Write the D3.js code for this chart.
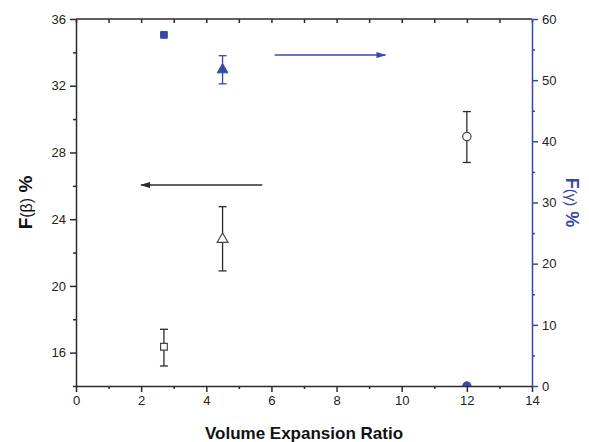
<!DOCTYPE html>
<html>
<head>
<meta charset="utf-8">
<script src="https://cdn.jsdelivr.net/npm/d3@7"></script>
<style>
  body { margin: 0; background: #fff; }
  text { font-family: "Liberation Sans", Arial, sans-serif; }
</style>
</head>
<body>
<svg id="chart"></svg>
<script>
// data
const ratios = [2.7, 4.5, 12];
const betaVals = [16.35, 22.8, 28.95];
const betaLow = [15.2, 20.9, 27.4];
const betaHigh = [17.4, 24.75, 30.45];
const betaShapes = ["square", "triangle", "circle"];

const gammaVals = [57.4, 51.7, 0];
const gammaLow = [57.1, 49.4, 0];
const gammaHigh = [57.7, 54.0, 0];

const xTicks = [0, 2, 4, 6, 8, 10, 12, 14];
const leftTicks = [16, 20, 24, 28, 32, 36];
const rightTicks = [0, 10, 20, 30, 40, 50, 60];

// arrows: [x0, x1, y]
const betaArrow = [5.72, 2.0, 26.05];
const gammaArrow = [6.1, 9.5, 54.1];

const W = 589, H = 442;
const margin = { top: 19, right: 57, bottom: 56, left: 76 };
const BLACK = "#2b2b2b", BLUE = "#3549a8";

const svg = d3.select("#chart").attr("width", W).attr("height", H);
const x = d3.scaleLinear().domain([0, 14]).range([margin.left, W - margin.right]);
const yL = d3.scaleLinear().domain([14, 36]).range([H - margin.bottom, margin.top]);
const yR = d3.scaleLinear().domain([0, 60]).range([H - margin.bottom, margin.top]);

const defs = svg.append("defs");
[["arrBlack", BLACK], ["arrBlue", BLUE]].forEach(([id, c]) => {
  defs.append("marker").attr("id", id)
    .attr("viewBox", "0 0 10 6").attr("refX", 9).attr("refY", 3)
    .attr("markerWidth", 10).attr("markerHeight", 6).attr("markerUnits", "userSpaceOnUse")
    .attr("orient", "auto")
    .append("path").attr("d", "M0,0 L10,3 L0,6 Z").attr("fill", c);
});
defs.append("clipPath").attr("id", "plotClip")
  .append("rect")
  .attr("x", x(0)).attr("y", yL(36))
  .attr("width", x(14) - x(0)).attr("height", yL(14) - yL(36));

// top border with inward ticks
svg.append("g")
  .attr("transform", `translate(0,${margin.top})`)
  .call(d3.axisBottom(x).ticks(14).tickSize(4).tickFormat(""))
  .call(g => g.selectAll("line,path").attr("stroke", BLACK).attr("stroke-width", 1.5))
  .call(g => g.select(".domain").attr("d", `M${x(0)},0H${x(14)}`));

// bottom axis, minor then major
svg.append("g")
  .attr("transform", `translate(0,${H - margin.bottom})`)
  .call(d3.axisBottom(x).tickValues(d3.range(1, 14, 2)).tickSize(3).tickFormat(""))
  .call(g => g.select(".domain").remove())
  .call(g => g.selectAll("line").attr("stroke", BLACK).attr("stroke-width", 1.5));
svg.append("g")
  .attr("transform", `translate(0,${H - margin.bottom})`)
  .call(d3.axisBottom(x).tickValues(xTicks).tickSize(6).tickSizeOuter(0).tickPadding(4))
  .call(g => g.selectAll("line,path").attr("stroke", BLACK).attr("stroke-width", 1.5))
  .call(g => g.selectAll("text").attr("font-size", 13).attr("fill", "#222"));

// left axis
svg.append("g")
  .attr("transform", `translate(${margin.left},0)`)
  .call(d3.axisLeft(yL).tickValues(d3.range(14, 37, 2).filter(v => !leftTicks.includes(v))).tickSize(3).tickFormat(""))
  .call(g => g.select(".domain").remove())
  .call(g => g.selectAll("line").attr("stroke", BLACK).attr("stroke-width", 1.5));
svg.append("g")
  .attr("transform", `translate(${margin.left},0)`)
  .call(d3.axisLeft(yL).tickValues(leftTicks).tickSize(6).tickSizeOuter(0).tickPadding(4))
  .call(g => g.selectAll("line,path").attr("stroke", BLACK).attr("stroke-width", 1.5))
  .call(g => g.selectAll("text").attr("font-size", 13).attr("fill", "#222"));

// right axis (blue)
svg.append("g")
  .attr("transform", `translate(${W - margin.right},0)`)
  .call(d3.axisRight(yR).tickValues(d3.range(5, 60, 10)).tickSize(3).tickFormat(""))
  .call(g => g.select(".domain").remove())
  .call(g => g.selectAll("line").attr("stroke", BLUE).attr("stroke-width", 1.5));
svg.append("g")
  .attr("transform", `translate(${W - margin.right},0)`)
  .call(d3.axisRight(yR).tickValues(rightTicks).tickSize(6).tickSizeOuter(0).tickPadding(4))
  .call(g => g.selectAll("line,path").attr("stroke", BLUE).attr("stroke-width", 1.5))
  .call(g => g.selectAll("text").attr("font-size", 13).attr("fill", "#222"));

// axis titles
svg.append("text")
  .attr("x", (x(0) + x(14)) / 2).attr("y", 439)
  .attr("text-anchor", "middle").attr("font-size", 17).attr("font-weight", "bold").attr("fill", "#111")
  .text("Volume Expansion Ratio");

const lt = svg.append("text")
  .attr("transform", `translate(32,${(yL(14) + yL(36)) / 2}) rotate(-90)`)
  .attr("text-anchor", "middle").attr("font-size", 19).attr("font-weight", "bold").attr("fill", "#111");
lt.append("tspan").text("F");
lt.append("tspan").attr("font-weight", "normal").attr("font-size", 16).text("(β)");
lt.append("tspan").text(" %");

const rt = svg.append("text")
  .attr("transform", `translate(566,${(yR(0) + yR(60)) / 2}) rotate(90)`)
  .attr("text-anchor", "middle").attr("font-size", 18).attr("font-weight", "bold").attr("fill", BLUE);
rt.append("tspan").text("F");
rt.append("tspan").attr("font-weight", "normal").attr("font-size", 15).text("(γ)");
rt.append("tspan").text(" %");

// error bars
function errBars(vals, lo, hi, scale, color) {
  const g = svg.append("g").attr("stroke", color).attr("stroke-width", 1.3);
  ratios.forEach((r, i) => {
    if (hi[i] - lo[i] < 1) return;
    const cx = x(r);
    g.append("line").attr("x1", cx).attr("x2", cx).attr("y1", scale(lo[i])).attr("y2", scale(hi[i]));
    g.append("line").attr("x1", cx - 4).attr("x2", cx + 4).attr("y1", scale(lo[i])).attr("y2", scale(lo[i]));
    g.append("line").attr("x1", cx - 4).attr("x2", cx + 4).attr("y1", scale(hi[i])).attr("y2", scale(hi[i]));
  });
}
errBars(betaVals, betaLow, betaHigh, yL, BLACK);
errBars(gammaVals, gammaLow, gammaHigh, yR, BLUE);

const symType = { square: d3.symbolSquare, triangle: d3.symbolTriangle, circle: d3.symbolCircle };
const symSize = { square: 45, triangle: 50, circle: 55 };

svg.append("g").selectAll("path.beta")
  .data(ratios.map((r, i) => ({ r, v: betaVals[i], s: betaShapes[i] })))
  .join("path")
  .attr("transform", d => `translate(${x(d.r)},${yL(d.v)})`)
  .attr("d", d => d3.symbol(symType[d.s], symSize[d.s])())
  .attr("fill", "#fff").attr("stroke", "#444").attr("stroke-width", 1.2);

svg.append("g").attr("clip-path", "url(#plotClip)")
  .selectAll("path.gamma")
  .data(ratios.map((r, i) => ({ r, v: gammaVals[i], s: betaShapes[i] })))
  .join("path")
  .attr("transform", d => `translate(${x(d.r)},${yR(d.v)})`)
  .attr("d", d => d3.symbol(symType[d.s], symSize[d.s])())
  .attr("fill", BLUE).attr("stroke", BLUE).attr("stroke-width", 1);

// arrows
svg.append("line")
  .attr("x1", x(betaArrow[0])).attr("x2", x(betaArrow[1]))
  .attr("y1", yL(betaArrow[2])).attr("y2", yL(betaArrow[2]))
  .attr("stroke", BLACK).attr("stroke-width", 1.5).attr("marker-end", "url(#arrBlack)");
svg.append("line")
  .attr("x1", x(gammaArrow[0])).attr("x2", x(gammaArrow[1]))
  .attr("y1", yR(gammaArrow[2])).attr("y2", yR(gammaArrow[2]))
  .attr("stroke", BLUE).attr("stroke-width", 1.5).attr("marker-end", "url(#arrBlue)");
</script>
</body>
</html>
